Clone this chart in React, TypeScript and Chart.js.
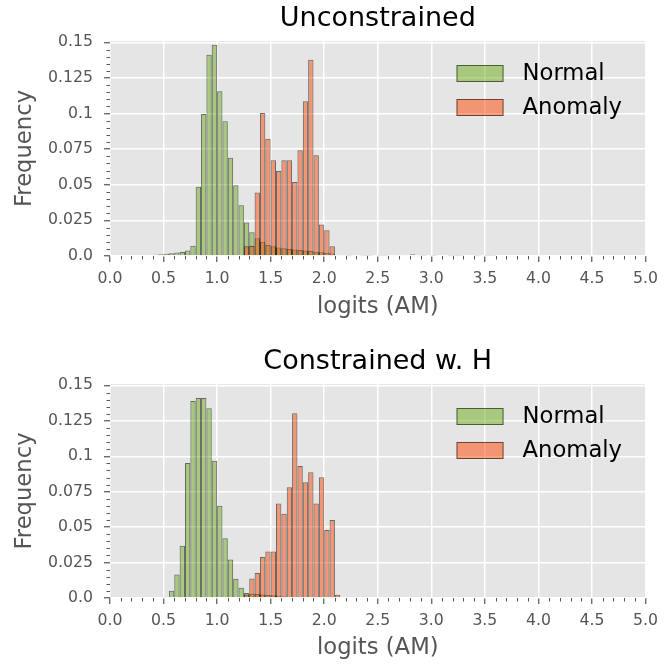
import React, { useEffect, useRef } from "react";
import { Chart, registerables } from "chart.js";

Chart.register(...registerables);

// ---------------- data ----------------
const BIN_LEFT = [
  0.35, 0.4, 0.45, 0.5, 0.55, 0.6, 0.65, 0.7, 0.75, 0.8, 0.85, 0.9, 0.95, 1.0, 1.05, 1.1, 1.15, 1.2,
  1.25, 1.3, 1.35, 1.4, 1.45, 1.5, 1.55, 1.6, 1.65, 1.7, 1.75, 1.8, 1.85, 1.9, 1.95, 2.0, 2.05, 2.1,
  2.15, 2.2, 2.25, 2.3, 2.35, 2.4, 2.45, 2.5, 2.55, 2.6, 2.65, 2.7, 2.75, 2.8, 2.85, 2.9, 2.95, 3.0,
  3.05, 3.1, 3.15, 3.2, 3.25, 3.3, 3.35, 3.4, 3.45, 3.5, 3.55,
];
const BIN_WIDTH = 0.05;

const TOP_NORMAL = [
  0.0005, 0.0008, 0.0012, 0.0016, 0.002, 0.0024, 0.0028, 0.0038, 0.0072, 0.0487, 0.0998, 0.1414, 0.1484, 0.1157, 0.0947, 0.069, 0.0497, 0.0357,
  0.0236, 0.0166, 0.0124, 0.01, 0.0078, 0.0068, 0.006, 0.0054, 0.005, 0.0046, 0.0042, 0.0039, 0.0035, 0.003, 0.0027, 0.0023, 0.0018, 0.0007,
  0.0003, 0.0002, 0.0003, 0.0004, 0.0002, 0.0002, 0.0003, 0.0002, 0.0002, 0.0005, 0.0004, 0.0003, 0.0006, 0.0012, 0.0003, 0.0002, 0.0003, 0.0002,
  0, 0, 0.0002, 0.0002, 0.0002, 0, 0, 0.0002, 0.0003, 0.0002, 0.0002,
];
const TOP_ANOMALY = [
  0, 0, 0, 0, 0, 0, 0, 0, 0, 0, 0, 0, 0, 0, 0, 0, 0, 0,
  0.0068, 0.007, 0.0446, 0.1005, 0.0823, 0.0672, 0.0597, 0.0672, 0.0672, 0.052, 0.0742, 0.1087, 0.1379, 0.0707, 0.0222, 0.018, 0.0068, 0,
  0, 0, 0, 0, 0, 0, 0, 0, 0, 0, 0, 0, 0, 0, 0, 0, 0, 0,
  0, 0, 0, 0, 0, 0, 0, 0, 0, 0, 0,
];
const BOTTOM_NORMAL = [
  0, 0, 0, 0.0007, 0.0052, 0.0166, 0.0368, 0.0953, 0.139, 0.1412, 0.1412, 0.1339, 0.0969, 0.0651, 0.0421, 0.0272, 0.0135, 0.0072,
  0.0035, 0.003, 0.0028, 0.0025, 0.0022, 0.002, 0.0015, 0.001, 0.0005, 0, 0, 0, 0, 0, 0, 0, 0, 0,
  0, 0, 0, 0, 0, 0, 0, 0, 0, 0, 0, 0, 0, 0, 0, 0, 0, 0,
  0, 0, 0, 0, 0, 0, 0, 0, 0, 0, 0,
];
const BOTTOM_ANOMALY = [
  0, 0, 0, 0, 0, 0, 0, 0, 0, 0, 0, 0, 0, 0, 0, 0, 0, 0,
  0.0025, 0.0138, 0.0176, 0.029, 0.0328, 0.0328, 0.0667, 0.0595, 0.0782, 0.1304, 0.0932, 0.0817, 0.0887, 0.0667, 0.0852, 0.048, 0.055, 0.0023,
  0, 0, 0, 0, 0, 0, 0, 0, 0, 0, 0, 0, 0, 0, 0, 0, 0, 0,
  0, 0, 0, 0, 0, 0, 0, 0, 0, 0, 0,
];

const X_TICKS = [0, 0.5, 1, 1.5, 2, 2.5, 3, 3.5, 4, 4.5, 5];
const X_TICK_LABELS = ["0.0", "0.5", "1.0", "1.5", "2.0", "2.5", "3.0", "3.5", "4.0", "4.5", "5.0"];
const Y_TICKS = [0, 0.025, 0.05, 0.075, 0.1, 0.125, 0.15];
const Y_TICK_LABELS = ["0.0", "0.025", "0.05", "0.075", "0.1", "0.125", "0.15"];
const SERIES_LABELS = ["Normal", "Anomaly"];
const PANEL_TITLES = ["Unconstrained", "Constrained w. H"];
const X_LABEL = "logits (AM)";
const Y_LABEL = "Frequency";

// ---------------- style ----------------
const FONT = "DejaVu Sans";
const GREEN = "rgba(107,173,21,0.5)";
const ORANGE = "rgba(255,69,0,0.5)";
const EDGE = "rgba(0,0,0,0.55)";
const PANEL_BG = "#E5E5E5";
const TICK_GRAY = "#555555";

const LAYOUTS = [
  { top: 41, xHeight: 76, xTitlePad: 11 },
  { top: 52, xHeight: 66, xTitlePad: 2 },
];

const bgPlugin = {
  id: "panelBg",
  beforeDraw(chart: any) {
    const { ctx, chartArea: a } = chart;
    ctx.save();
    ctx.fillStyle = PANEL_BG;
    ctx.fillRect(a.left, a.top, a.right - a.left, a.bottom - a.top);
    ctx.restore();
  },
};

const minorTickPlugin = {
  id: "minorTicks",
  afterDraw(chart: any) {
    const { ctx, chartArea: a, scales } = chart;
    const xs = scales.x;
    const ys = scales.y;
    ctx.save();
    ctx.strokeStyle = TICK_GRAY;
    ctx.lineWidth = 1;
    ctx.beginPath();
    for (let k = 1; k < 50; k++) {
      if (k % 5 === 0) continue;
      const px = Math.round(xs.getPixelForValue(k / 10)) + 0.5;
      ctx.moveTo(px, a.bottom);
      ctx.lineTo(px, a.bottom + 3.5);
    }
    for (let k = 1; k < 30; k++) {
      if (k % 5 === 0) continue;
      const py = Math.round(ys.getPixelForValue(k * 0.005)) + 0.5;
      ctx.moveTo(a.left - 3.5, py);
      ctx.lineTo(a.left, py);
    }
    ctx.stroke();
    ctx.restore();
  },
};

const titleLegendPlugin = {
  id: "titleLegend",
  afterDraw(chart: any, _args: any, opts: any) {
    const { ctx, chartArea: a } = chart;
    ctx.save();
    // panel title
    ctx.fillStyle = "#000";
    ctx.font = `27px "${FONT}"`;
    ctx.textAlign = "center";
    ctx.textBaseline = "alphabetic";
    ctx.fillText(opts.title, (a.left + a.right) / 2, a.top - 15);
    // legend
    ctx.font = `22.7px "${FONT}"`;
    ctx.textAlign = "left";
    ctx.textBaseline = "middle";
    chart.data.datasets.forEach((ds: any, i: number) => {
      const px = a.right - 189;
      const py = a.top + 24 + i * 34;
      ctx.fillStyle = ds.backgroundColor;
      ctx.fillRect(px, py, 47, 17);
      ctx.strokeStyle = ds.borderColor;
      ctx.lineWidth = 1;
      ctx.strokeRect(px + 0.5, py + 0.5, 46, 16);
      ctx.fillStyle = "#000";
      ctx.fillText(ds.label, a.right - 123, py + 9);
    });
    ctx.restore();
  },
};

function makeConfig(idx: number): any {
  const normal = idx === 0 ? TOP_NORMAL : BOTTOM_NORMAL;
  const anomaly = idx === 0 ? TOP_ANOMALY : BOTTOM_ANOMALY;
  const L = LAYOUTS[idx];
  const toPoints = (arr: number[]) => BIN_LEFT.map((b, i) => ({ x: b + BIN_WIDTH / 2, y: arr[i] }));
  return {
    type: "bar",
    data: {
      datasets: [
        { label: SERIES_LABELS[0], data: toPoints(normal), backgroundColor: GREEN, borderColor: EDGE, borderWidth: 1, order: 2 },
        { label: SERIES_LABELS[1], data: toPoints(anomaly), backgroundColor: ORANGE, borderColor: EDGE, borderWidth: 1, order: 1 },
      ],
    },
    options: {
      responsive: false,
      animation: false,
      devicePixelRatio: 1,
      layout: { padding: { top: L.top, right: 15, left: 0, bottom: 0 } },
      datasets: {
        bar: { barPercentage: 1, categoryPercentage: 1, grouped: false, inflateAmount: 0, borderSkipped: "start" },
      },
      plugins: {
        legend: { display: false },
        tooltip: { enabled: false },
        titleLegend: { title: PANEL_TITLES[idx] },
      },
      scales: {
        x: {
          type: "linear",
          min: 0,
          max: 5,
          offset: false,
          afterBuildTicks: (s: any) => {
            s.ticks = X_TICKS.map((v) => ({ value: v }));
          },
          afterFit: (s: any) => {
            s.height = L.xHeight;
          },
          ticks: {
            autoSkip: false,
            maxRotation: 0,
            color: TICK_GRAY,
            font: { family: FONT, size: 15.7 },
            padding: 8,
            callback: (_v: any, i: number) => X_TICK_LABELS[i],
          },
          grid: { offset: false, color: "#ffffff", lineWidth: 1.5, tickLength: 6, tickColor: TICK_GRAY, tickWidth: 1.2 },
          border: { display: false },
          title: {
            display: true,
            text: X_LABEL,
            color: TICK_GRAY,
            font: { family: FONT, size: 22.7 },
            padding: { top: 0, bottom: L.xTitlePad },
          },
        },
        y: {
          type: "linear",
          min: 0,
          max: 0.151,
          afterBuildTicks: (s: any) => {
            s.ticks = Y_TICKS.map((v) => ({ value: v }));
          },
          afterFit: (s: any) => {
            s.width = 110;
          },
          ticks: {
            autoSkip: false,
            color: TICK_GRAY,
            font: { family: FONT, size: 15.7 },
            padding: 11,
            callback: (_v: any, i: number) => Y_TICK_LABELS[i],
          },
          grid: { color: "#ffffff", lineWidth: 1.5, tickLength: 6, tickColor: TICK_GRAY, tickWidth: 1.2 },
          border: { display: false },
          title: {
            display: true,
            text: Y_LABEL,
            color: TICK_GRAY,
            font: { family: FONT, size: 22.7 },
            padding: { top: 11, bottom: 0 },
          },
        },
      },
    },
    plugins: [bgPlugin, minorTickPlugin, titleLegendPlugin],
  };
}

export default function App() {
  const topRef = useRef<HTMLCanvasElement>(null);
  const botRef = useRef<HTMLCanvasElement>(null);
  useEffect(() => {
    const c1 = new Chart(topRef.current as HTMLCanvasElement, makeConfig(0));
    const c2 = new Chart(botRef.current as HTMLCanvasElement, makeConfig(1));
    return () => {
      c1.destroy();
      c2.destroy();
    };
  }, []);
  return (
    <div style={{ position: "absolute", left: 0, top: 0, width: 666, height: 664, background: "#ffffff" }}>
      <canvas ref={topRef} width={666} height={332} style={{ display: "block" }} />
      <canvas ref={botRef} width={666} height={332} style={{ display: "block" }} />
    </div>
  );
}
